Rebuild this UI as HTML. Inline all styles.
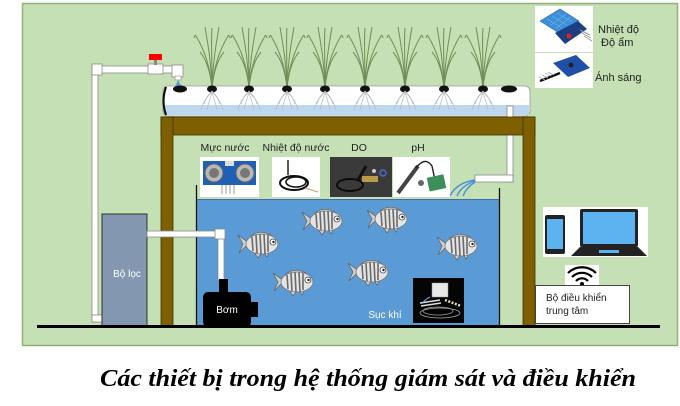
<!DOCTYPE html>
<html><head><meta charset="utf-8"><style>
html,body{margin:0;padding:0;background:#fff;}
svg{display:block;}
.s{font-family:"Liberation Sans",sans-serif;}
</style></head><body>
<svg width="680" height="406" viewBox="0 0 680 406" xmlns="http://www.w3.org/2000/svg">
<defs>
<g id="plant" fill="none" stroke="#6f8f58" stroke-width="1">
  <path d="M0,0 C-2,-25 -10,-42 -16,-52 Q-17,-54 -18,-50"/>
  <path d="M0,0 C2,-25 10,-42 16,-52 Q17,-54 18,-50"/>
  <path d="M0,0 C-1,-30 -5,-48 -7,-61"/>
  <path d="M0,0 C1,-30 5,-48 7,-61"/>
  <path d="M0,0 C-2,-20 -7,-30 -12,-36"/>
  <path d="M0,0 C2,-20 7,-30 12,-36"/>
  <path d="M0,0 C0,-30 -1,-50 0,-60"/>
</g>
<g id="roots" fill="none" stroke="#b9bcc0" stroke-width="0.8">
  <path d="M0,3 C-3,8 -9,12 -11,22"/>
  <path d="M0,3 C3,8 9,12 11,22"/>
  <path d="M0,3 C-1,10 -4,15 -5,22"/>
  <path d="M0,3 C1,10 4,15 5,22"/>
  <path d="M0,3 C-2,6 -6,8 -8,16"/>
  <path d="M0,3 C2,6 6,8 8,16"/>
</g>
<g id="holder"><ellipse cx="0" cy="1" rx="5" ry="3.5" fill="#111"/></g>
<g id="fish">
  <path d="M0,5 L11,13 L1,23 L5,14 Z" fill="#cfcfcf" stroke="#666" stroke-width="0.8"/>
  <path d="M13,6 Q22,-1 33,5 Z" fill="#cfcfcf" stroke="#666" stroke-width="0.8"/>
  <path d="M16,22 L20,28 L24,22 Z" fill="#cfcfcf" stroke="#666" stroke-width="0.8"/>
  <path d="M26,22 L29,27 L32,21 Z" fill="#cfcfcf" stroke="#666" stroke-width="0.8"/>
  <ellipse cx="24" cy="14" rx="16" ry="10" fill="#e4e4e4" stroke="#777" stroke-width="0.8"/>
  <path d="M14,7 L15,21 M18,5 L19,23 M22,4 L23,24 M26,4 L27,24 M30,5 L30,22" stroke="#6a6a6a" stroke-width="1.6"/>
  <circle cx="35" cy="12" r="3" fill="#fff" stroke="#444" stroke-width="0.8"/>
  <circle cx="35.5" cy="12" r="1.2" fill="#222"/>
</g>
</defs>

<rect x="22.5" y="3.5" width="655" height="342" fill="#c5e0b4" stroke="#8fb179" stroke-width="1.5"/>

<rect x="92" y="66" width="6" height="256" fill="#fff" stroke="#8a8a8a" stroke-width="0.8"/>
<rect x="92" y="315" width="11" height="7" fill="#fff" stroke="#8a8a8a" stroke-width="0.8"/>
<rect x="92" y="66" width="82" height="7" fill="#fff" stroke="#8a8a8a" stroke-width="0.8"/>
<rect x="92" y="64" width="10" height="11" fill="#fff" stroke="#8a8a8a" stroke-width="0.8"/>
<rect x="148" y="64" width="15" height="10" fill="#fff" stroke="#8a8a8a" stroke-width="0.8"/>
<rect x="154" y="59" width="3" height="6" fill="#888"/>
<rect x="149" y="54" width="13" height="6" fill="#ff0000"/>
<rect x="172" y="65" width="11" height="12" fill="#fff" stroke="#8a8a8a" stroke-width="0.8"/>
<rect x="175" y="76" width="6" height="4" fill="#fff" stroke="#8a8a8a" stroke-width="0.6"/>
<path d="M178,80 L175,87 L182,87 Z" fill="#5b9bd5"/>

<use href="#plant" x="212" y="88"/>
<use href="#plant" x="249" y="88"/>
<use href="#plant" x="287" y="88"/>
<use href="#plant" x="325" y="88"/>
<use href="#plant" x="365" y="88"/>
<use href="#plant" x="405" y="88"/>
<use href="#plant" x="444" y="88"/>
<use href="#plant" x="483" y="88"/>

<rect x="163" y="86" width="367" height="30" rx="5" fill="#ffffff" stroke="#9a9a9a" stroke-width="0.8"/>
<rect x="164" y="105" width="365" height="10" fill="#bdd7ee"/>
<path d="M166,87 Q161,101 166,115" fill="none" stroke="#111" stroke-width="2.2"/>
<ellipse cx="180" cy="89" rx="7" ry="3.5" fill="#111"/>
<ellipse cx="509" cy="89" rx="8" ry="3.5" fill="#111"/>
<use href="#holder" x="212" y="88"/><use href="#holder" x="249" y="88"/>
<use href="#holder" x="287" y="88"/><use href="#holder" x="325" y="88"/>
<use href="#holder" x="365" y="88"/><use href="#holder" x="405" y="88"/>
<use href="#holder" x="444" y="88"/><use href="#holder" x="483" y="88"/>
<use href="#roots" x="212" y="88"/><use href="#roots" x="249" y="88"/>
<use href="#roots" x="287" y="88"/><use href="#roots" x="325" y="88"/>
<use href="#roots" x="365" y="88"/><use href="#roots" x="405" y="88"/>
<use href="#roots" x="444" y="88"/><use href="#roots" x="483" y="88"/>

<rect x="507" y="106" width="6" height="76" fill="#fff" stroke="#8a8a8a" stroke-width="0.8"/>
<rect x="475" y="175" width="38" height="7" fill="#fff" stroke="#8a8a8a" stroke-width="0.8"/>
<path d="M475,180 Q456,183 450,196 M475,181 Q461,186 457,196 M475,182 Q466,188 463,196" fill="none" stroke="#4a90d9" stroke-width="1.4"/>

<rect x="161" y="117" width="374" height="18" fill="#7f6000" stroke="#3d2e00" stroke-width="0.8"/>
<rect x="161" y="117" width="12" height="210" fill="#7f6000" stroke="#3d2e00" stroke-width="0.8"/>
<rect x="523" y="117" width="12" height="210" fill="#7f6000" stroke="#3d2e00" stroke-width="0.8"/>

<text class="s" x="225" y="151" font-size="10.5" text-anchor="middle" fill="#222">Mực nước</text>
<text class="s" x="296" y="151" font-size="10.5" text-anchor="middle" fill="#222">Nhiệt độ nước</text>
<text class="s" x="359" y="151" font-size="10.5" text-anchor="middle" fill="#222">DO</text>
<text class="s" x="418" y="151" font-size="10.5" text-anchor="middle" fill="#222">pH</text>

<rect x="200" y="157" width="59" height="40" fill="#fff"/>
<rect x="203" y="161" width="53" height="24" fill="#1f5fb4"/>
<circle cx="214" cy="173" r="9" fill="#b7b7b7" stroke="#666"/>
<circle cx="214" cy="173" r="5" fill="#777"/>
<circle cx="245" cy="173" r="9" fill="#b7b7b7" stroke="#666"/>
<circle cx="245" cy="173" r="5" fill="#777"/>
<rect x="225" y="161" width="9" height="5" fill="#ddd"/>
<path d="M222,185 L222,194 M226,185 L226,194 M230,185 L230,194 M234,185 L234,194" stroke="#999" stroke-width="1"/>

<rect x="272" y="157" width="48" height="40" fill="#fff"/>
<path d="M288,160 L288,175" stroke="#222" stroke-width="1.5"/>
<ellipse cx="294" cy="183" rx="14" ry="7" fill="none" stroke="#111" stroke-width="2"/>
<ellipse cx="296" cy="182" rx="10" ry="5" fill="none" stroke="#111" stroke-width="1.6"/>
<path d="M305,188 L318,192" stroke="#c96" stroke-width="1"/>

<rect x="330" y="157" width="62" height="40" fill="#3a3a3a"/>
<ellipse cx="350" cy="185" rx="13" ry="6" fill="none" stroke="#0c0c0c" stroke-width="2"/>
<path d="M358,180 L366,166" stroke="#111" stroke-width="3"/>
<rect x="362" y="176" width="16" height="6" fill="#b89a4a"/>
<circle cx="383" cy="173" r="3" fill="none" stroke="#4a6ad0" stroke-width="1.5"/>
<circle cx="374" cy="171" r="2" fill="#ccc"/>

<rect x="393" y="157" width="57" height="40" fill="#fff"/>
<path d="M398,193 L418,166" stroke="#444" stroke-width="4"/>
<path d="M416,168 Q425,156 432,166 L435,180" fill="none" stroke="#222" stroke-width="1.4"/>
<rect x="428" y="176" width="17" height="14" fill="#3d8f5a" transform="rotate(-12 436 183)"/>
<circle cx="421" cy="183" r="3" fill="#666"/>

<rect x="197" y="199" width="302" height="128" fill="#5b9bd5"/>
<line x1="197" y1="199.5" x2="499" y2="199.5" stroke="#3d6fa8" stroke-width="1"/>
<line x1="196.5" y1="185" x2="196.5" y2="327" stroke="#111" stroke-width="1.3"/>
<line x1="499.5" y1="188" x2="499.5" y2="327" stroke="#111" stroke-width="1.3"/>

<use href="#fish" x="302" y="207"/>
<use href="#fish" x="367" y="205"/>
<use href="#fish" x="238" y="230"/>
<use href="#fish" x="437" y="232"/>
<use href="#fish" x="348" y="258"/>
<use href="#fish" x="273" y="268"/>

<rect x="413" y="278" width="51" height="45" fill="#050505"/>
<rect x="432" y="283" width="16" height="14" fill="#e8e8e8" stroke="#999" stroke-width="0.5"/>
<path d="M420,303 L440,300 M421,306 L441,303" stroke="#ddd" stroke-width="1.5"/>
<path d="M445,300 L461,306" stroke="#e8dcb0" stroke-width="2.5" stroke-dasharray="2,1.5"/>
<ellipse cx="440" cy="313" rx="20" ry="5" fill="none" stroke="#aaa" stroke-width="0.8"/>
<ellipse cx="438" cy="311" rx="15" ry="4" fill="none" stroke="#999" stroke-width="0.8"/>
<path d="M430,297 Q424,300 422,304" fill="none" stroke="#7aa0e0" stroke-width="1"/>
<text class="s" x="385" y="318" font-size="10" text-anchor="middle" fill="#fff">Sục khí</text>

<rect x="102" y="214" width="45" height="112" fill="#8497b0" stroke="#2f2f2f" stroke-width="1"/>
<text class="s" x="127" y="277" font-size="10" text-anchor="middle" fill="#fff">Bộ lọc</text>

<rect x="147" y="231" width="77" height="6" fill="#fff" stroke="#8a8a8a" stroke-width="0.8"/>
<rect x="218" y="231" width="6" height="49" fill="#fff" stroke="#8a8a8a" stroke-width="0.8"/>
<rect x="215" y="229" width="10" height="10" fill="#fff" stroke="#8a8a8a" stroke-width="0.8"/>

<rect x="219" y="279" width="9" height="14" fill="#000"/>
<rect x="203" y="292" width="48" height="35" rx="5" fill="#000"/>
<rect x="250" y="302" width="8" height="15" fill="#000"/>
<text class="s" x="227" y="313" font-size="10" text-anchor="middle" fill="#fff">Bơm</text>

<rect x="37" y="325" width="623" height="3" fill="#000"/>

<rect x="535" y="6" width="58" height="46" fill="#fff"/>
<polygon points="540,21 560,9 579,21 559,33" fill="#3d8fd6" stroke="#2a6db0" stroke-width="0.6"/>
<path d="M547,19 L562,28 M552,16 L567,25 M557,13 L572,22 M551,25 L566,14 M556,28 L571,17" stroke="#6fb0ea" stroke-width="0.6"/>
<polygon points="555,33 578,21 587,29 565,44" fill="#1b3f80"/>
<circle cx="569" cy="36" r="2.5" fill="#e02020"/>
<path d="M580,30 L590,35 M582,33 L591,38 M584,36 L592,41" stroke="#999" stroke-width="1"/>
<rect x="535" y="53" width="58" height="35" fill="#fff"/>
<polygon points="553,63 576,55 590,68 568,77" fill="#1f4fa8"/>
<circle cx="571" cy="65" r="2.5" fill="#222"/>
<path d="M540,81 L560,73" stroke="#111" stroke-width="2.5"/>
<path d="M539,77 L545,80 M542,75 L548,78 M545,73 L551,76 M548,72 L554,75" stroke="#aaa" stroke-width="0.8"/>
<text class="s" x="598" y="33" font-size="11" fill="#222">Nhiệt độ</text>
<text class="s" x="601" y="46" font-size="11" fill="#222">Độ ẩm</text>
<text class="s" x="595" y="81" font-size="11" fill="#222">Ánh sáng</text>

<rect x="543" y="207" width="105" height="50" fill="#fff"/>
<rect x="545" y="215" width="20" height="39" rx="2" fill="#222"/>
<rect x="547" y="219" width="16" height="30" fill="#5cb3f0"/>
<rect x="580" y="209" width="58" height="38" rx="2" fill="#222"/>
<rect x="583" y="212" width="52" height="32" fill="#5cb3f0"/>
<polygon points="580,247 638,247 647,256 571,256" fill="#222"/>
<rect x="599" y="250" width="20" height="3" fill="#5cb3f0"/>

<rect x="565" y="265" width="34" height="20" fill="#fff"/>
<path d="M568,273 A20,20 0 0 1 596,273" fill="none" stroke="#000" stroke-width="2.2"/>
<path d="M572,277 A14,14 0 0 1 592,277" fill="none" stroke="#000" stroke-width="2.2"/>
<path d="M576,281 A8,8 0 0 1 588,281" fill="none" stroke="#000" stroke-width="2.2"/>
<circle cx="582" cy="284" r="2" fill="#000"/>

<rect x="535.5" y="285.5" width="94" height="38" fill="#fff" stroke="#444" stroke-width="1"/>
<text class="s" x="546" y="301" font-size="10" fill="#222">Bộ điều khiển</text>
<text class="s" x="546" y="314" font-size="10" fill="#222">trung tâm</text>

<text x="368" y="386" style="font-family:'Liberation Serif',serif;font-size:24px;font-weight:bold;font-style:italic" text-anchor="middle" fill="#000" textLength="536" lengthAdjust="spacingAndGlyphs">Các thiết bị trong hệ thống giám sát và điều khiển</text>
</svg>
</body></html>
